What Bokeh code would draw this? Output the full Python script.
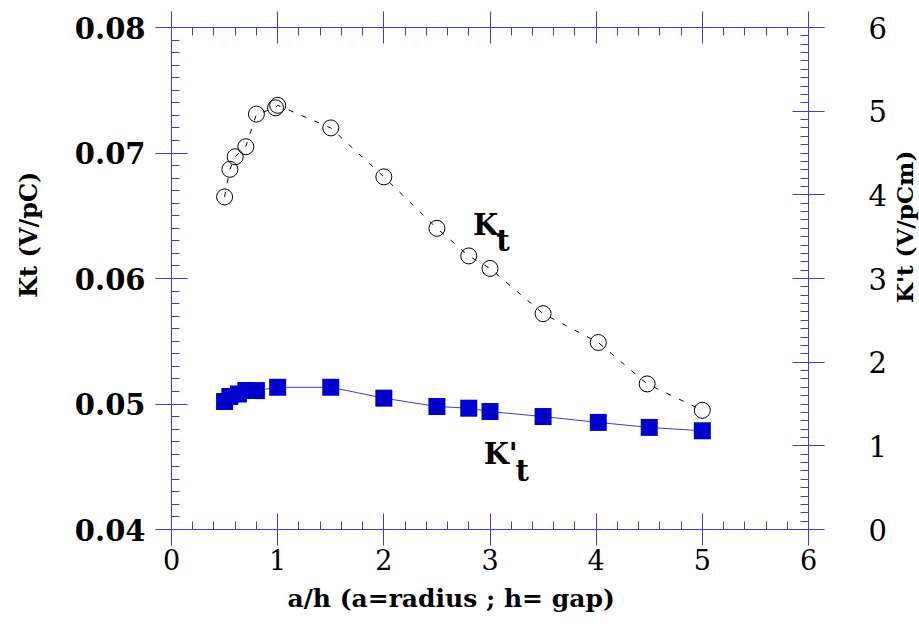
import math
from bokeh.plotting import figure
from bokeh.layouts import row
from bokeh.core.properties import value
from bokeh.models import (Range1d, LinearAxis, SingleIntervalTicker, NumeralTickFormatter, Label,
                          CustomJSTickFormatter, Title)
from bokeh.embed import file_html
from bokeh.resources import INLINE

# Kt (left axis, V/pC) - open circles, dashed line
kt_x = [0.5, 0.55, 0.6, 0.7, 0.8, 0.98, 1.0, 1.5, 2.0, 2.5, 2.8, 3.0, 3.5, 4.02, 4.48, 5.0]
kt_y = [0.0665, 0.0687, 0.0697, 0.0705, 0.0731, 0.0736, 0.0738, 0.0720, 0.0681,
        0.0640, 0.0618, 0.0608, 0.0572, 0.0549, 0.0516, 0.0495]

# K't (right axis, V/pCm) - filled squares, solid line
kpt_x = [0.5, 0.55, 0.63, 0.7, 0.8, 1.0, 1.5, 2.0, 2.5, 2.8, 3.0, 3.5, 4.02, 4.5, 5.0]
kpt_y = [1.53, 1.59, 1.62, 1.66, 1.66, 1.70, 1.70, 1.57, 1.47, 1.45, 1.41, 1.35, 1.28, 1.22, 1.18]

x_label = "a/h (a=radius ; h= gap)"
left_label = "Kt (V/pC)"
right_label = "K't (V/pCm)"

BLUE = "#3b3bdc"
SERIF = "DejaVu Serif"

LW, RW, H = 44, 30, 642   # widths of the side strips holding the vertical titles

p = figure(width=919 - LW - RW, height=H, output_backend="svg", toolbar_location=None,
           x_range=Range1d(0, 6), y_range=Range1d(0.04, 0.08),
           min_border_left=171 - LW, min_border_right=110 - RW, min_border_top=27,
           min_border_bottom=113)
p.extra_y_ranges = {"right": Range1d(0, 6)}
p.xgrid.visible = False
p.ygrid.visible = False
p.outline_line_color = None
p.background_fill_color = "white"
p.border_fill_color = "white"

def style_axis(ax, minor_n, interval):
    ax.ticker = SingleIntervalTicker(interval=interval, num_minor_ticks=minor_n)
    ax.axis_line_color = BLUE
    ax.axis_line_width = 1
    ax.major_tick_line_color = BLUE
    ax.minor_tick_line_color = BLUE
    ax.major_tick_line_width = 1
    ax.minor_tick_line_width = 1
    ax.major_tick_in = 16
    ax.major_tick_out = 16
    ax.minor_tick_in = 8
    ax.minor_tick_out = 0
    ax.major_label_text_font = SERIF
    ax.major_label_text_font_style = "normal"
    ax.major_label_text_color = "black"

# bottom axis
xa = p.xaxis[0]
style_axis(xa, 5, 1)
xa.major_label_text_font_size = "27px"
xa.major_label_standoff = 3

# left axis
ya = p.yaxis[0]
style_axis(ya, 10, 0.01)
ya.formatter = NumeralTickFormatter(format="0.00")
ya.major_label_text_font_size = "29px"
ya.major_label_text_font_style = "bold"
ya.major_label_standoff = 10

# top axis (ticks only)
ta = LinearAxis()
style_axis(ta, 5, 1)
ta.formatter = CustomJSTickFormatter(code="return ''")
ta.major_label_standoff = 0
p.add_layout(ta, "above")

# right axis
ra = LinearAxis(y_range_name="right")
style_axis(ra, 10, 1)
ra.major_label_text_font_size = "29px"
ra.major_label_standoff = 44
p.add_layout(ra, "right")

# bottom title
p.add_layout(Title(text=x_label, align="left", offset=116, standoff=22, vertical_align="top",
                   text_font=SERIF, text_font_style="bold", text_font_size="25px",
                   text_color="black"), "below")

# Kt series
p.line(kt_x, kt_y, line_color="black", line_width=1, line_dash="5 9")
p.scatter(kt_x, kt_y, marker="circle", size=16, fill_color=None, line_color="black", line_width=1)

# K't series
p.line(kpt_x, kpt_y, line_color=BLUE, line_width=1, y_range_name="right")
p.scatter(kpt_x, kpt_y, marker="square", size=17, fill_color="#0000cc", line_color=None,
          y_range_name="right")

def lab(x, y, t, size="29px"):
    p.add_layout(Label(x=x, y=y, text=t, text_font=SERIF, text_font_style="bold",
                       text_font_size=size, text_color="black", text_baseline="alphabetic",
                       text_align="left"))

# curve annotations
lab(2.84, 0.0643, "K")
lab(3.06, 0.0630, "t")
lab(2.94, 0.04598, "K'")
lab(3.24, 0.0447, "t")

# side strips carrying the vertical axis titles (read bottom-to-top)
def strip(w, text, cx, cy, size):
    s = figure(width=w, height=H, output_backend="svg", toolbar_location=None,
               x_range=Range1d(0, w), y_range=Range1d(H, 0),
               x_axis_location=None, y_axis_location=None,
               min_border=0, min_border_left=0, min_border_right=0,
               min_border_top=0, min_border_bottom=0)
    s.outline_line_color = None
    s.background_fill_color = "white"
    s.border_fill_color = "white"
    s.xgrid.visible = False
    s.ygrid.visible = False
    s.text(x=[cx], y=[cy], text=[text], angle=math.pi / 2, text_font=value(SERIF),
           text_font_style="bold", text_font_size=size, text_color="black",
           text_align="center", text_baseline="middle")
    return s

left_strip = strip(LW, left_label, 28, 265, "24px")
right_strip = strip(RW, right_label, 15, 255, "23px")

layout = row(left_strip, p, right_strip, spacing=0)
open("out.html", "w").write(file_html(layout, INLINE))
